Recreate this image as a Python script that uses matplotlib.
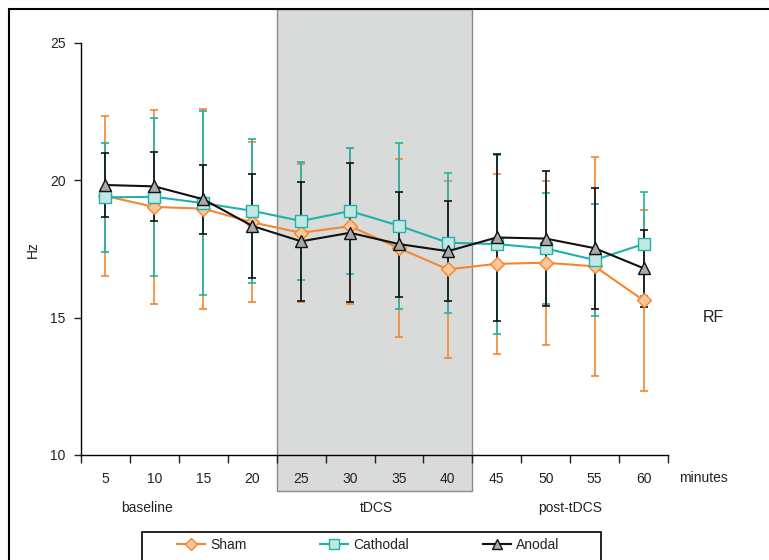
import matplotlib
matplotlib.use("Agg")
import matplotlib.pyplot as plt
import matplotlib.patches as mpatches
from matplotlib.lines import Line2D
import numpy as np

plt.rcParams['font.family'] = ['Liberation Sans', 'DejaVu Sans']
plt.rcParams['font.size'] = 10
plt.rcParams['text.color'] = '#222222'
plt.rcParams['xtick.color'] = '#222222'
plt.rcParams['ytick.color'] = '#222222'

# data (mean +- SD, Hz)
minutes = [5, 10, 15, 20, 25, 30, 35, 40, 45, 50, 55, 60]
sham_mean = [19.43, 19.03, 18.97, 18.47, 18.09, 18.33, 17.53, 16.76, 16.96, 17.00, 16.87, 15.63]
sham_sd = [2.91, 3.54, 3.64, 2.91, 2.52, 2.83, 3.24, 3.22, 3.27, 2.98, 3.99, 3.29]
cath_mean = [19.38, 19.40, 19.17, 18.89, 18.52, 18.88, 18.35, 17.73, 17.68, 17.52, 17.10, 17.68]
cath_sd = [1.98, 2.88, 3.34, 2.62, 2.15, 2.29, 3.02, 2.55, 3.26, 2.03, 2.03, 1.90]
anod_mean = [19.83, 19.78, 19.31, 18.34, 17.78, 18.09, 17.68, 17.42, 17.92, 17.88, 17.53, 16.80]
anod_sd = [1.17, 1.26, 1.26, 1.89, 2.16, 2.53, 1.91, 1.82, 3.05, 2.47, 2.20, 1.40]

phases = ['baseline', 'tDCS', 'post-tDCS']

W, H = 769, 560
fig = plt.figure(figsize=(W / 100, H / 100), dpi=100)

def fx(px):
    return px / W

def fy(py):
    return 1 - py / H

ax = fig.add_axes([fx(81), fy(455), fx(668) - fx(81), fy(43) - fy(455)])
ax.patch.set_facecolor('none')

x = np.arange(1, len(minutes) + 1)

# stimulation period (20-40 min), shaded beyond the axes
ax.axvspan(4.5, 8.5, ymin=(455 - 491) / 412, ymax=(455 - 9) / 412,
           facecolor='#d9dada', edgecolor='#8a8a8a', linewidth=1.0,
           clip_on=False, zorder=0)

series = [
    ('Sham', sham_mean, sham_sd, '#f5862e', 'D', '#fcc69c', 7.5),
    ('Cathodal', cath_mean, cath_sd, '#1db3ab', 's', '#c6e6e4', 8),
    ('Anodal', anod_mean, anod_sd, '#111111', '^', '#a9a9a9', 9),
]

handles = []
for i, (name, m, sd, col, mk, fc, ms) in enumerate(series):
    ax.errorbar(x, m, yerr=sd, fmt='none', ecolor=col, elinewidth=1.2,
                capsize=3, capthick=1.2, zorder=2 + i, clip_on=False)
    ax.plot(x, m, color=col, linewidth=1.5, marker=mk, markersize=ms,
            markerfacecolor=fc, markeredgecolor=col, markeredgewidth=1.0,
            zorder=5 + i, clip_on=False)
    handles.append(Line2D([], [], color=col, linewidth=1.5, marker=mk,
                          markersize=ms * 0.85, markerfacecolor=fc,
                          markeredgecolor=col, label=name))

ax.set_xlim(0.5, 12.5)
ax.set_ylim(10, 25)
ax.set_yticks([10, 15, 20, 25])
ax.tick_params(axis='y', direction='out', length=5, width=1, pad=6)

# ticks at category boundaries, labels at category centres
ax.set_xticks(np.arange(0.5, 13, 1))
ax.set_xticklabels([])
ax.set_xticks(x, minor=True)
ax.set_xticklabels([str(m) for m in minutes], minor=True)
ax.tick_params(axis='x', which='major', direction='out', length=6, width=1)
ax.tick_params(axis='x', which='minor', length=0, pad=12)

for s in ['top', 'right']:
    ax.spines[s].set_visible(False)
for s in ['left', 'bottom']:
    ax.spines[s].set_linewidth(1.0)

fig.text(fx(33), fy(250), 'Hz', rotation=90, ha='center', va='center')
fig.text(fx(703), fy(318), 'RF', ha='left', va='center', fontsize=11.5)
fig.text(fx(679), fy(478), 'minutes', ha='left', va='center')
for label, px in zip(phases, [147, 376, 570]):
    fig.text(fx(px), fy(508), label, ha='center', va='center')

# legend box (cut by the bottom edge)
fig.patches.append(mpatches.Rectangle((fx(142), fy(590)), fx(601) - fx(142),
                                      fy(532) - fy(590), transform=fig.transFigure,
                                      facecolor='none', edgecolor='black',
                                      linewidth=1.2))
fig.legend(handles=handles, loc='center left', bbox_to_anchor=(fx(177), fy(545)),
           ncol=3, frameon=False, borderpad=0, borderaxespad=0,
           handlelength=2.0, handletextpad=0.4, columnspacing=5.3)

# outer chart frame
fig.patches.append(mpatches.Rectangle((fx(9), fy(600)), fx(800) - fx(9),
                                      fy(9) - fy(600), transform=fig.transFigure,
                                      facecolor='none', edgecolor='black',
                                      linewidth=1.5))

fig.savefig('out.png', dpi=100)
